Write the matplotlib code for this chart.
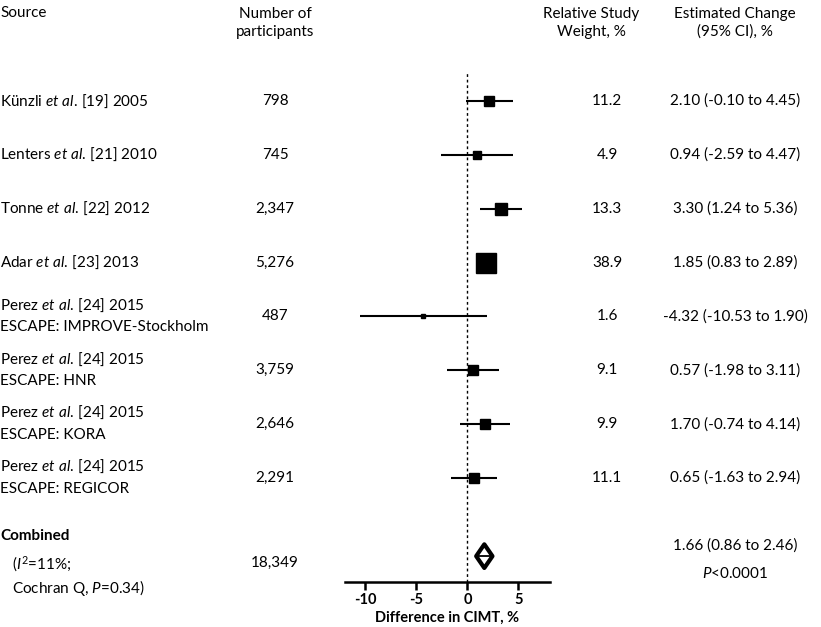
import matplotlib
matplotlib.use("Agg")
import matplotlib.pyplot as plt
from matplotlib.patches import Polygon
from matplotlib.transforms import blended_transform_factory
import numpy as np

plt.rcParams['font.family'] = ['Lato', 'DejaVu Sans']
plt.rcParams['mathtext.fontset'] = 'custom'
plt.rcParams['mathtext.rm'] = 'Lato'
plt.rcParams['mathtext.it'] = 'Lato:italic'
plt.rcParams['mathtext.bf'] = 'Lato:bold'
plt.rcParams['axes.unicode_minus'] = False

# study data
authors = ["Künzli", "Lenters", "Tonne", "Adar", "Perez", "Perez", "Perez", "Perez"]
refs = [19, 21, 22, 23, 24, 24, 24, 24]
years = [2005, 2010, 2012, 2013, 2015, 2015, 2015, 2015]
cohorts = ["", "", "", "", "ESCAPE: IMPROVE-Stockholm", "ESCAPE: HNR",
           "ESCAPE: KORA", "ESCAPE: REGICOR"]
participants = ["798", "745", "2,347", "5,276", "487", "3,759", "2,646", "2,291"]
weights = [11.2, 4.9, 13.3, 38.9, 1.6, 9.1, 9.9, 11.1]
est = [2.10, 0.94, 3.30, 1.85, -4.32, 0.57, 1.70, 0.65]
lo = [-0.10, -2.59, 1.24, 0.83, -10.53, -1.98, -0.74, -1.63]
hi = [4.45, 4.47, 5.36, 2.89, 1.90, 3.11, 4.14, 2.94]

# pooled
pooled_n = "18,349"
pooled_est, pooled_lo, pooled_hi = 1.66, 0.86, 2.46

W, H = 821, 627
fig = plt.figure(figsize=(W / 100, H / 100), dpi=100)
ax = fig.add_axes([345 / W, 1 - 582 / H, 205 / W, (582 - 73) / H])

rows = np.arange(len(est))
pooled_row = 8.45

# CI lines and squares
for i in rows:
    ax.plot([lo[i], hi[i]], [i, i], color='black', lw=1.5, solid_capstyle='butt')
    ax.plot(est[i], i, marker='s', color='black', ms=2.3 * np.sqrt(weights[i]))

# pooled diamond
dh = 0.22
diamond = Polygon([[pooled_lo, pooled_row], [pooled_est, pooled_row - dh],
                   [pooled_hi, pooled_row], [pooled_est, pooled_row + dh]],
                  closed=True, fill=False, edgecolor='black', lw=3, joinstyle='round')
ax.add_patch(diamond)
ax.plot([pooled_lo, pooled_hi], [pooled_row, pooled_row], color='black', lw=1.3)

ax.axvline(0, color='black', lw=1, ls=(0, (2, 2)))

ax.set_xlim(-12, 8.1)
ax.set_ylim(8.93, -0.52)
ax.set_xticks([-10, -5, 0, 5])
for s in ['top', 'right', 'left']:
    ax.spines[s].set_visible(False)
ax.spines['bottom'].set_linewidth(1.8)
ax.set_yticks([])
ax.tick_params(axis='x', length=6, width=1.8, labelsize=10.5, pad=2)
for lab in ax.get_xticklabels():
    lab.set_fontweight('bold')
ax.set_xlabel("Difference in CIMT, %", fontsize=10.5, fontweight='bold', labelpad=3)

# text columns
tr = blended_transform_factory(fig.transFigure, ax.transData)
fs = 11
x_src, x_n, x_w, x_ci = 0 / W, 275 / W, 607 / W, 735 / W

for i in rows:
    label = f"{authors[i]} $\\mathit{{et\\ al.}}\\,$[{refs[i]}] {years[i]}"
    if cohorts[i]:
        ax.text(x_src, i - 0.21, label, transform=tr, ha='left', va='center', fontsize=fs)
        ax.text(x_src, i + 0.2, cohorts[i], transform=tr, ha='left', va='center', fontsize=fs)
    else:
        ax.text(x_src, i, label, transform=tr, ha='left', va='center', fontsize=fs)
    ax.text(x_n, i, participants[i], transform=tr, ha='center', va='center', fontsize=fs)
    ax.text(x_w, i, f"{weights[i]:.1f}", transform=tr, ha='center', va='center', fontsize=fs)
    ax.text(x_ci, i, f"{est[i]:.2f} ({lo[i]:.2f} to {hi[i]:.2f})", transform=tr,
            ha='center', va='center', fontsize=fs)

# combined row
ax.text(x_src, pooled_row - 0.38, "Combined", transform=tr, ha='left', va='center',
        fontsize=fs, fontweight='bold')
ax.text(12 / W, pooled_row + 0.15, "($I^2$=11%;", transform=tr, ha='left', va='center', fontsize=fs)
ax.text(12 / W, pooled_row + 0.6, "Cochran Q, $P$=0.34)", transform=tr, ha='left', va='center', fontsize=fs)
ax.text(x_n, pooled_row + 0.13, pooled_n, transform=tr, ha='center', va='center', fontsize=fs)
ax.text(x_ci, pooled_row - 0.2, f"{pooled_est:.2f} ({pooled_lo:.2f} to {pooled_hi:.2f})",
        transform=tr, ha='center', va='center', fontsize=fs)
ax.text(x_ci, pooled_row + 0.33, "$P$<0.0001", transform=tr, ha='center', va='center', fontsize=fs)

# headers
fig.text(0, 1 - 13 / H, "Source", ha='left', va='center', fontsize=fs)
fig.text(x_n, 1 - 23 / H, "Number of\nparticipants", ha='center', va='center',
         fontsize=fs, linespacing=1.3)
fig.text(591 / W, 1 - 23 / H, "Relative Study\nWeight, %", ha='center', va='center',
         fontsize=fs, linespacing=1.3)
fig.text(x_ci, 1 - 23 / H, "Estimated Change\n(95% CI), %", ha='center', va='center',
         fontsize=fs, linespacing=1.3)

fig.savefig("out.png", dpi=100)
